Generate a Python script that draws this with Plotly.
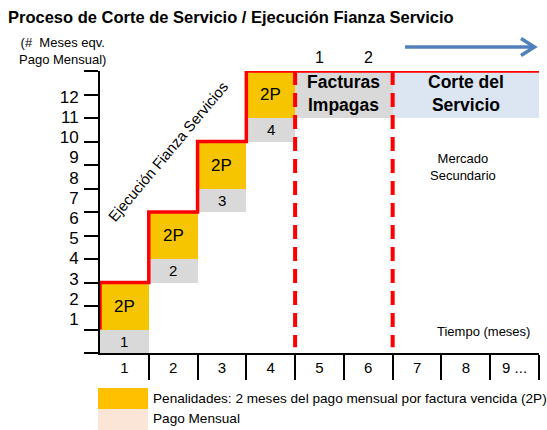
import plotly.graph_objects as go

# ---------------- data ----------------
periodos = ["1", "2", "3", "4", "5", "6", "7", "8", "9 ..."]
y_etiquetas = [str(i) for i in range(1, 13)]
pago_mensual = [1, 1, 1, 1]          # meses eq. pago mensual por periodo
penalidad = [2, 2, 2, 2]             # 2P por factura vencida
pago_texto = ["1", "2", "3", "4"]
penalidad_texto = ["2P", "2P", "2P", "2P"]
facturas_num = ["1", "2"]
fases = ["<b>Facturas<br>Impagas</b>", "<b>Corte del<br>Servicio</b>"]
fase_inicio = [4, 6]
fase_fin = [6, 9]
fase_base = [10, 10]
fase_alto = [2, 2]
fase_color = ["#D9D9D9", "#DCE6F2"]

# ---------------- derived ----------------
base_pago, acc = [], 0
for p, q in zip(pago_mensual, penalidad):
    base_pago.append(acc)
    acc += p + q
base_pen = [b + p for b, p in zip(base_pago, pago_mensual)]
tops = [b + q for b, q in zip(base_pen, penalidad)]
centros = [i + 0.5 for i in range(len(pago_mensual))]

step_x, step_y = [0], [base_pen[0]]
for i, t in enumerate(tops):
    step_x += [i, i + 1]
    step_y += [t, t]
step_x[-1] = len(periodos)

FONT = "Arial, Liberation Sans, sans-serif"
W, H = 547, 430
L, R, T, B = 100, 8, 71, 77
PH = H - T - B
PW = W - L - R
YMAX = 12
XMAX = len(periodos)


def py(px):
    return (H - B - px) / PH


def pxp(px):
    return (px - L) / PW


def dx(px):
    return (px - L) / PW * XMAX


def dy(px):
    return (H - B - px) / PH * YMAX


fig = go.Figure()

# top phase boxes
fig.add_trace(go.Bar(
    x=[(a + b) / 2 for a, b in zip(fase_inicio, fase_fin)],
    y=fase_alto, base=fase_base,
    width=[b - a for a, b in zip(fase_inicio, fase_fin)],
    marker=dict(color=fase_color, line=dict(width=0)),
    hoverinfo="skip", showlegend=False,
))

# pago mensual (gray)
fig.add_trace(go.Bar(
    x=centros, y=pago_mensual, base=base_pago, width=1,
    marker=dict(color="#D9D9D9", line=dict(width=0)),
    hoverinfo="skip", showlegend=False,
))

# penalidades (yellow)
fig.add_trace(go.Bar(
    x=centros, y=penalidad, base=base_pen, width=1,
    marker=dict(color="#F6C500", line=dict(width=0)),
    hoverinfo="skip", showlegend=False,
))

# red step line
fig.add_trace(go.Scatter(
    x=step_x, y=step_y, mode="lines",
    line=dict(color="#FF0000", width=3.5), cliponaxis=False,
    hoverinfo="skip", showlegend=False,
))

annotations = []
# box labels
for c, b, h, t in zip(centros, base_pago, pago_mensual, pago_texto):
    annotations.append(dict(x=c, y=b + h / 2, xref="x", yref="y", text=t, showarrow=False,
                            font=dict(family=FONT, size=15, color="black")))
for c, b, h, t in zip(centros, base_pen, penalidad, penalidad_texto):
    annotations.append(dict(x=c, y=b + h / 2, xref="x", yref="y", text=t, showarrow=False,
                            font=dict(family=FONT, size=17, color="black")))
for a, e, b, h, t in zip(fase_inicio, fase_fin, fase_base, fase_alto, fases):
    annotations.append(dict(x=(a + e) / 2, y=b + h / 2 + 0.05, xref="x", yref="y", text=t,
                            showarrow=False, font=dict(family=FONT, size=17.5, color="black")))

shapes = []
for xv in [fase_inicio[0], fase_inicio[1]]:
    shapes.append(dict(type="line", xref="x", yref="y", x0=xv, x1=xv,
                       y0=YMAX, y1=0.25,
                       line=dict(color="#FF0000", width=4, dash="14px,8px")))
# legend swatches
shapes.append(dict(type="rect", xref="paper", yref="paper", x0=pxp(98), x1=pxp(148),
                   y0=py(409), y1=py(388), fillcolor="#FFC000", line=dict(width=0)))
shapes.append(dict(type="rect", xref="paper", yref="paper", x0=pxp(98), x1=pxp(148),
                   y0=py(430), y1=py(409), fillcolor="#FBE5D6", line=dict(width=0)))
# arrow shaft + open chevron head
shapes.append(dict(type="line", xref="paper", yref="paper", x0=pxp(405), x1=pxp(534),
                   y0=py(47), y1=py(47), line=dict(color="#4F81BD", width=3.5)))
shapes.append(dict(type="path", xref="paper", yref="paper",
                   path=f"M {pxp(521)},{py(38.5)} L {pxp(534.5)},{py(47)} L {pxp(521)},{py(55.5)}",
                   line=dict(color="#4F81BD", width=3.5)))

# numbers above unpaid invoices
for i, t in enumerate(facturas_num):
    annotations.append(dict(x=fase_inicio[0] + i + 0.5, y=py(57), xref="x", yref="paper",
                            yanchor="middle", text=t, showarrow=False,
                            font=dict(family=FONT, size=16, color="black")))
# y title
annotations.append(dict(x=pxp(62), y=py(51), xref="paper", yref="paper",
                        xanchor="center", yanchor="middle",
                        text="(#  Meses eqv.<br>Pago Mensual)", showarrow=False,
                        align="center", font=dict(family=FONT, size=13, color="black")))
# diagonal text
annotations.append(dict(x=dx(168), y=dy(152), xref="x", yref="y",
                        text="Ejecución Fianza Servicios", textangle=-50, showarrow=False,
                        font=dict(family=FONT, size=14.8, color="black")))
annotations.append(dict(x=dx(463), y=dy(167), xref="x", yref="y",
                        text="Mercado<br>Secundario", showarrow=False,
                        font=dict(family=FONT, size=13, color="black")))
annotations.append(dict(x=dx(483), y=dy(331), xref="x", yref="y",
                        text="Tiempo (meses)", showarrow=False,
                        font=dict(family=FONT, size=13, color="black")))
# legend texts
annotations.append(dict(x=pxp(151), y=py(398), xref="paper", yref="paper",
                        xanchor="left", yanchor="middle",
                        text="Penalidades: 2 meses del pago mensual por factura vencida (2P)",
                        showarrow=False, font=dict(family=FONT, size=13.6, color="black")))
annotations.append(dict(x=pxp(151), y=py(418), xref="paper", yref="paper",
                        xanchor="left", yanchor="middle",
                        text="Pago Mensual", showarrow=False,
                        font=dict(family=FONT, size=13.6, color="black")))

ylabel_pos = [0.58 + 0.86 * (i + 1) for i in range(len(y_etiquetas))]

fig.update_layout(
    width=W, height=H,
    margin=dict(l=L, r=R, t=T, b=B, autoexpand=False),
    paper_bgcolor="white", plot_bgcolor="white",
    barmode="overlay", bargap=0,
    title=dict(text="<b>Proceso de Corte de Servicio / Ejecución Fianza Servicio</b>",
               x=8 / W, xanchor="left", y=1 - 17 / H, yanchor="middle",
               font=dict(family=FONT, size=16.5, color="black")),
    xaxis=dict(range=[0, XMAX], showline=True, linecolor="black", linewidth=2,
               tickmode="array", tickvals=[i + 0.5 for i in range(XMAX)], ticktext=periodos,
               ticks="", showgrid=False, zeroline=False,
               tickfont=dict(family=FONT, size=15, color="black"),
               minor=dict(tickmode="array", tickvals=list(range(1, XMAX + 1)), ticks="outside",
                          ticklen=25, tickwidth=2, tickcolor="black", showgrid=False)),
    yaxis=dict(range=[0, YMAX], showline=True, linecolor="black", linewidth=2,
               tickmode="array", tickvals=ylabel_pos, ticktext=y_etiquetas,
               ticks="", showgrid=False, zeroline=False, ticklabelstandoff=16,
               tickfont=dict(family=FONT, size=17, color="black"),
               minor=dict(tickmode="array", tickvals=list(range(0, YMAX + 1)), ticks="outside",
                          ticklen=14, tickwidth=2, tickcolor="black", showgrid=False)),
    shapes=shapes, annotations=annotations,
)

fig.write_html("out.html", config={"displayModeBar": False},
               post_script="document.body.style.margin='0';")
